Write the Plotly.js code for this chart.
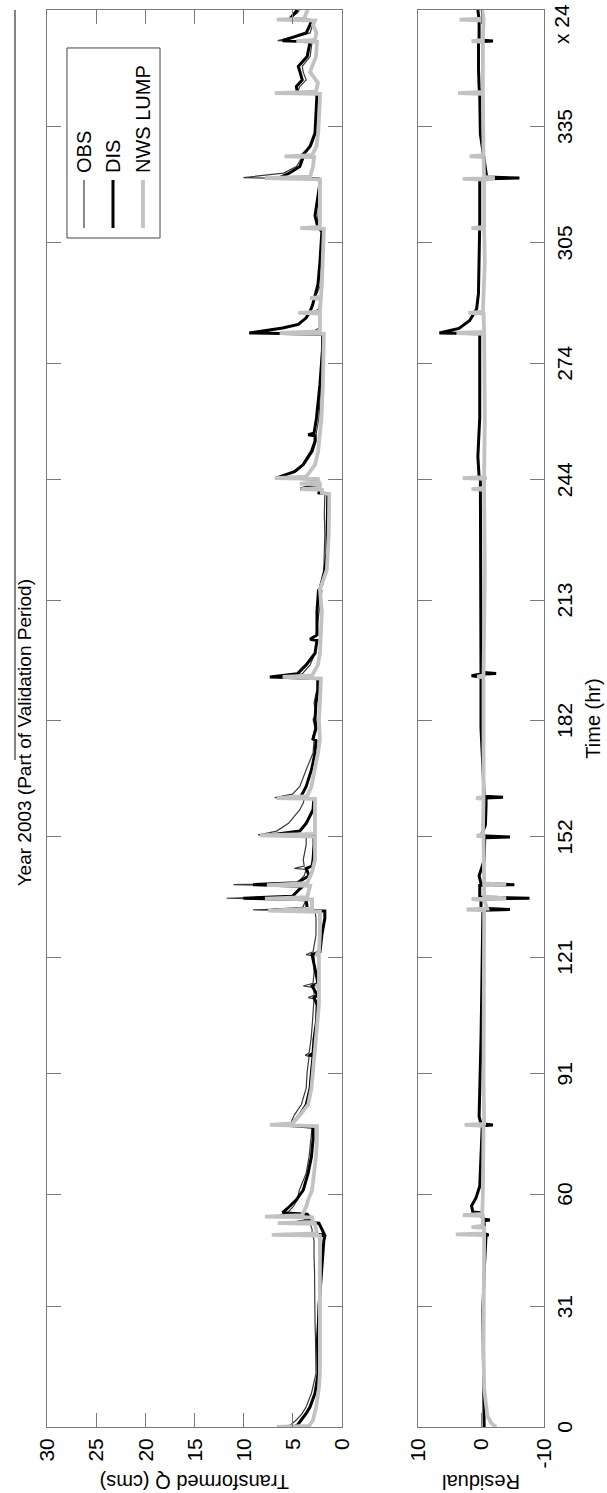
<!DOCTYPE html>
<html>
<head>
<meta charset="utf-8">
<script src="https://cdn.plot.ly/plotly-3.0.1.min.js"></script>
<style>
html,body{margin:0;padding:0;background:#fff;overflow:hidden;width:607px;height:1493px;}
#wrap{position:absolute;left:0;top:0;width:1493px;height:607px;transform-origin:0 0;transform:translate(0px,1493px) rotate(-90deg);}
</style>
</head>
<body>
<div id="wrap"><div id="chart" style="width:1493px;height:607px;"></div></div>
<script>
// ---- tick labels ----
const timeTicks = [0,31,60,91,121,152,182,213,244,274,305,335];
const timeTickText = ['0','31','60','91','121','152','182','213','244','274','305','335'];
const qTicks = [0,5,10,15,20,25,30];
const resTicks = [-10,0,10];
const resTickText = ['-10','0','10'];
const seriesNames = ['OBS','DIS','NWS LUMP'];

// ---- OBS (thin) ----
const obsDay = [0,0.5,1.8,3.5,5.2,8.7,13.8,18,22.4,27,31,36,40,44,48,49.2,49.5,49.9,51,52.3,52.6,53,54.3,54.6,55.2,56.8,58.5,61,65.4,69.7,74,77.2,77.7,78.1,80.4,83,87.3,91.5,95.4,95.8,96.3,100,104.4,108.7,110.3,110.6,111.2,113.2,113.6,114.3,117,121.3,121.7,122.4,126.8,131,132.9,133.2,133.6,135.8,136.2,136.7,139.3,139.7,140.2,142,143.6,143.9,144.5,146.1,150,152.2,152.5,153.5,155.5,159,160.7,161.8,162.1,163,165,169.3,173.6,176.8,177.2,180,182.2,184,186.5,190,192.8,193.2,194,196.3,199.3,202.6,202.9,204,210,215.5,215.8,217,220.8,225,230,235,240.3,240.6,241.5,241.7,242.5,244.2,244.5,246.1,247.9,251.3,253.9,255.6,259.9,268.5,277,281.5,281.8,283,286.8,287.1,288,290.6,290.9,294.3,300,308.6,308.9,315,320.4,321.5,321.8,323,324.7,327.1,327.4,329.9,333.3,338,341.9,343.4,343.7,345.3,347,349,350.5,353,356.8,357.1,359.1,361.2,362.3,362.6,364.2,365];
const obsQ = [6.3,5.2,4.6,4.0,3.6,3.06,2.6,2.6,2.65,2.7,2.7,2.75,2.75,2.8,2.8,2.9,5.0,3.0,3.0,3.2,6.0,3.6,4.0,6.3,5.5,4.9,4.5,4.3,3.6,3.3,3.1,3.0,5.5,5.2,4.8,4.1,3.6,3.5,3.3,3.7,3.3,3.1,2.96,2.8,2.8,3.4,2.8,2.8,3.9,2.9,2.8,2.8,3.6,2.9,2.6,2.6,2.7,9.0,4.0,3.6,11.7,5.0,3.8,11.0,4.5,3.8,3.6,4.8,3.8,3.9,3.6,3.6,8.5,6.6,5.4,4.25,3.9,3.8,6.8,5.0,4.25,3.6,2.9,2.8,3.0,2.7,2.9,2.6,2.8,2.5,2.5,6.2,4.0,3.2,2.7,2.5,3.2,2.6,2.3,2.0,2.3,1.9,1.8,1.75,1.7,1.75,1.7,2.2,2.3,3.5,2.5,2.6,6.6,4.6,3.8,2.9,2.6,2.6,2.3,2.1,2.0,2.0,3.3,2.3,2.2,3.0,2.3,2.2,2.7,2.1,2.0,2.0,2.5,2.3,2.3,2.4,10.0,5.9,4.6,4.0,4.3,3.1,2.6,2.5,2.4,2.4,4.5,4.25,3.6,3.9,4.0,3.2,3.0,6.5,3.2,2.9,2.8,5.5,4.5,4.3];

// ---- DIS (black) ----
const disDay = [0,0.5,1.8,3.5,5.2,8.7,13.8,18,22.4,27,31,36,40,44,48,49.2,49.5,49.9,51,52.5,52.8,53.3,54.8,55.2,56.8,58.5,61,65.4,69.7,74,77.2,77.7,78.2,80.4,83,87.3,91.5,95.4,95.8,96.3,100,104.4,108.7,110.6,111.2,113.6,114.3,121.7,122.4,126.8,131,132.9,133.2,133.6,135.8,136.2,136.7,139.3,139.7,140.2,142,143.9,144.5,146.1,150,152.2,152.5,153.5,155.5,159,160.7,161.8,162.1,163,165,169.3,173.6,176.8,177.2,180,182.2,186.5,190,192.8,193.2,194,196.3,199.3,202.6,202.9,204,210,215.5,215.8,220.8,225,230,235,240.3,240.6,241.5,241.7,242.5,244.2,244.5,246.1,247.9,251.3,253.9,255.3,255.6,256,259.9,268.5,277,281.5,281.8,283.1,284,285.7,287.4,289,294.3,300,308,308.9,312,320.4,321.5,321.8,323,324.7,327.1,327.4,329.9,333.3,341.9,343.4,343.7,345.3,347,349,350.5,353,356.8,357.1,359.1,361.2,362.3,362.6,364.2,365];
const disQ = [4.9,4.5,4.1,3.6,3.2,2.7,2.38,2.4,2.45,2.35,2.3,2.15,2.04,1.9,1.8,1.7,2.5,1.8,2.0,2.3,4.5,3.0,3.5,6.0,5.3,4.6,3.9,3.4,3.06,2.9,2.9,5.6,5.0,4.25,3.6,3.2,3.06,2.9,3.2,2.9,2.8,2.55,2.48,2.8,2.45,3.0,2.4,3.0,2.2,2.0,1.7,1.7,7.0,3.5,3.6,10.0,5.0,4.0,9.0,4.5,3.3,3.6,3.0,2.9,2.8,2.8,7.3,4.25,3.6,2.9,2.85,2.8,4.2,4.0,3.6,3.06,2.7,2.6,2.9,2.6,2.7,2.6,2.4,2.4,7.3,4.5,3.6,2.7,2.5,3.2,2.5,2.5,2.35,2.2,1.7,1.5,1.45,1.45,1.4,2.3,2.3,4.2,2.6,2.7,6.6,4.8,3.9,3.06,2.7,2.7,3.4,2.8,2.55,2.2,1.95,1.9,9.4,6.0,4.4,3.6,3.2,2.95,2.4,2.2,2.0,2.4,2.7,2.2,2.3,6.3,5.3,4.25,3.9,4.0,3.2,2.7,2.55,2.5,4.5,4.6,4.0,4.25,4.4,3.5,3.2,6.0,3.6,3.2,3.1,5.3,4.7,4.5];

// ---- NWS LUMP (light gray) ----
const nwsDay = [0,0.3,1.8,5,10,13.8,22.4,31,40,48,49.3,49.5,49.9,51,52.3,52.5,52.8,54,54.2,54.6,56.8,58.5,61,65.4,69.7,74,77.5,77.8,78.2,80.4,83,87.3,91.5,100,104.4,108.7,113.3,113.6,114,121.4,121.7,122.2,127,132.7,133.0,133.5,135.9,136.1,136.5,139.4,139.6,140.1,143,146.1,152.1,152.4,152.8,155.5,160.7,161.8,162.0,162.5,165,169.3,173.6,177,182,186.5,192.8,193.2,193.6,196.3,199.3,210,215.7,220.8,230,240.3,240.6,241.4,241.6,241.9,242.8,243,243.3,244.2,244.4,244.8,246.1,247.9,251.3,253.9,259.9,268.5,277,281.6,281.8,282.2,286.8,287,287.3,290.6,290.8,291.1,294.3,300,308.6,308.8,309.1,315,321.4,321.7,322.1,324.7,327.1,327.3,327.6,329.9,333.3,341.9,343.4,343.6,344,346.2,349,350.5,353,356.8,357,357.3,359.1,361.2,362.3,362.5,362.8,364.2,365];
const nwsQ = [6.6,3.3,2.9,2.6,2.3,2.2,2.2,2.2,2.15,2.15,2.2,7.1,2.5,2.6,2.7,6.5,2.9,3.0,7.8,4.0,3.6,3.4,3.0,2.8,2.6,2.5,2.5,7.3,5.0,4.2,3.4,3.06,2.9,2.6,2.38,2.3,2.3,2.6,2.3,2.3,2.6,2.3,2.2,2.2,7.5,3.0,3.0,7.8,3.5,3.2,7.6,3.5,3.0,2.7,2.7,8.3,2.7,2.7,2.7,2.7,6.6,3.5,3.06,2.7,2.4,2.2,2.3,2.2,2.1,6.0,3.0,2.4,2.2,2.0,2.2,1.5,1.3,1.25,2.0,2.0,4.2,2.2,2.2,4.25,2.3,2.4,6.8,3.6,3.2,2.7,2.38,2.3,2.04,1.9,1.8,1.8,6.3,2.2,2.2,4.4,2.2,2.1,3.2,2.1,2.0,1.9,1.8,4.2,2.2,2.2,2.2,7.8,3.2,2.9,2.8,5.8,3.0,2.55,2.38,2.2,2.2,6.8,2.6,2.4,3.2,3.0,2.6,2.5,4.6,2.7,2.55,2.9,2.7,6.6,3.8,3.6,3.4];

// ---- Residuals (DIS, black) ----
const resDisDay = [0,10,20,30,40,48,49.3,49.5,49.8,51,53.1,53.3,53.6,55.2,55.4,57,59,62,70,77.6,77.8,78.1,80,90,100,110,120,131,133.1,133.3,133.6,136.0,136.2,136.5,139.5,139.7,140.0,142,146,151.8,152,152.3,155,160,162.0,162.2,162.5,170,180,193.2,193.5,193.9,194.1,194.4,200,215,230,244.2,244.4,244.7,250,260,275,281.6,281.8,283,285,288,292,300,310,321.5,321.7,322.0,324,328,333,343,345,350,356.8,357,357.3,362.5,365];
const resDisVal = [-0.5,-0.4,-0.3,-0.3,-0.5,-0.8,-0.8,-1.2,-0.6,-0.5,-0.5,-1.4,-0.3,0.2,1.3,1.5,0.8,0.2,0.0,-0.2,-1.9,0.0,0.3,0.1,0.0,-0.1,-0.2,-0.3,-0.3,-4.6,0.0,0.0,-7.7,0.2,0.2,-5.3,0.0,0.3,-0.5,-0.6,-4.6,0.0,-0.7,-0.8,-0.8,-3.5,-0.5,-0.3,0.0,0.0,1.5,0.2,-2.4,0.0,0.0,0.0,0.1,0.1,-0.8,0.3,0.5,0.2,0.2,0.2,6.6,3.5,1.8,0.7,0.4,0.3,0.2,0.2,-6.1,-0.9,-0.7,-0.3,0.1,0.2,0.3,0.4,0.4,-1.9,0.3,0.3,0.5];

// ---- Residuals (NWS LUMP, gray) ----
const resNwsDay = [0,1,3,10,20,49.4,49.6,49.9,51.3,51.5,51.8,54.4,54.6,54.9,60,77.6,77.8,78.1,90,120,133.1,133.3,133.5,135.8,136.0,136.2,136.5,139.5,139.7,140.0,152.1,152.3,152.6,161.8,162.0,162.3,193.1,193.3,193.6,220,241.4,241.6,241.9,244.2,244.4,244.7,260,281.6,281.8,282.1,286.8,287.0,287.3,300,308.6,308.8,309.1,321.3,321.5,321.7,322.0,327.1,327.3,327.6,343.4,343.6,343.9,356.8,357.0,357.3,362.3,362.5,362.8,365];
const resNwsVal = [-2.4,-1.6,-1.0,-0.5,-0.4,-0.5,4.0,-0.5,-0.5,1.5,-0.3,-0.3,2.9,-0.2,-0.3,-0.4,2.6,-0.5,-0.4,-0.5,-0.5,2.3,-1.0,-0.5,1.5,-4.0,-0.5,-0.5,-4.0,-0.5,-0.4,0.7,-0.3,-0.4,0.8,-0.4,-0.4,0.6,-0.4,-0.6,-0.5,1.5,-0.5,-0.5,2.9,-0.5,-0.6,-0.5,3.9,-0.5,-0.4,2.0,-0.3,-0.6,-0.5,1.5,-0.5,-0.5,2.9,-2.2,-0.5,-0.4,1.8,-0.4,-0.3,3.65,-0.3,-0.3,1.5,-0.3,-0.4,3.4,-0.4,-0.2];

const OBS_C = '#3a3a3a', DIS_C = '#000000', NWS_C = '#c2c2c2';
const OBS_W = 1.2, DIS_W = 3, NWS_W = 3.8;
const FONT = 'Liberation Sans, Arial, Helvetica, sans-serif';

const traces = [
  {x: obsDay, y: obsQ, name: seriesNames[0], type: 'scatter', mode: 'lines', line: {color: OBS_C, width: OBS_W}, xaxis: 'x', yaxis: 'y'},
  {x: disDay, y: disQ, name: seriesNames[1], type: 'scatter', mode: 'lines', line: {color: DIS_C, width: DIS_W}, xaxis: 'x', yaxis: 'y'},
  {x: nwsDay, y: nwsQ, name: seriesNames[2], type: 'scatter', mode: 'lines', line: {color: NWS_C, width: NWS_W}, xaxis: 'x', yaxis: 'y'},
  {x: resDisDay, y: resDisVal, name: seriesNames[1] + ' residual', type: 'scatter', mode: 'lines', line: {color: DIS_C, width: DIS_W}, xaxis: 'x2', yaxis: 'y2'},
  {x: resNwsDay, y: resNwsVal, name: seriesNames[2] + ' residual', type: 'scatter', mode: 'lines', line: {color: NWS_C, width: NWS_W}, xaxis: 'x2', yaxis: 'y2'}
];

const axCommon = {showline: true, linecolor: '#7a7a7a', linewidth: 1, mirror: 'ticks', ticks: 'inside', ticklen: 14, tickcolor: '#7a7a7a', tickwidth: 1, showgrid: false, zeroline: false, tickfont: {size: 21, color: '#000'}};

// legend drawn in paper coordinates (box, line samples, labels)
const legBox = {x0: 0.8391, x1: 0.9732, y0: 0.7726, y1: 0.9598};
const legRows = [0.9256, 0.8672, 0.8068];
const legSample = [0.8462, 0.8800];
const legColors = [OBS_C, DIS_C, NWS_C];
const legWidths = [OBS_W, DIS_W, NWS_W];

const shapes = [
  {type: 'line', xref: 'paper', yref: 'paper', x0: 0.4707, x1: 1.0, y0: 1.0644, y1: 1.0644, line: {color: '#333', width: 1.2}},
  {type: 'rect', xref: 'paper', yref: 'paper', x0: legBox.x0, x1: legBox.x1, y0: legBox.y0, y1: legBox.y1, fillcolor: '#fff', line: {color: '#444', width: 1}}
];
const annotations = [
  {text: 'x 24', xref: 'paper', yref: 'paper', x: 0.99, y: -0.036, xanchor: 'center', yanchor: 'middle', showarrow: false, font: {size: 21, color: '#000'}}
];
seriesNames.forEach((n, i) => {
  shapes.push({type: 'line', xref: 'paper', yref: 'paper', x0: legSample[0], x1: legSample[1], y0: legRows[i], y1: legRows[i], line: {color: legColors[i], width: legWidths[i]}});
  annotations.push({text: n, xref: 'paper', yref: 'paper', x: 0.8836, y: legRows[i], xanchor: 'left', yanchor: 'middle', showarrow: false, font: {size: 20, color: '#000'}});
});

const layout = {
  width: 1493, height: 607,
  margin: {l: 66, r: 10, t: 47, b: 63},
  paper_bgcolor: '#fff', plot_bgcolor: '#fff',
  font: {family: FONT, color: '#000'},
  showlegend: false,
  title: {text: 'Year 2003 (Part of Validation Period)', font: {size: 19, color: '#000'}, x: 0.49, xref: 'paper', xanchor: 'center', y: 0.9605, yref: 'container', yanchor: 'middle'},
  xaxis: Object.assign({}, axCommon, {domain: [0, 1], range: [0, 365], tickvals: timeTicks, ticktext: timeTickText, showticklabels: false, anchor: 'y'}),
  yaxis: Object.assign({}, axCommon, {domain: [0.4074, 1], range: [0, 30], tickvals: qTicks, anchor: 'x', ticklabelstandoff: 6,
    title: {text: 'Transformed Q (cms)', font: {size: 20}, standoff: 8}}),
  xaxis2: Object.assign({}, axCommon, {domain: [0, 1], range: [0, 365], tickvals: timeTicks, ticktext: timeTickText, anchor: 'y2', ticklabelstandoff: 2,
    title: {text: 'Time (hr)', font: {size: 20}, standoff: 10}}),
  yaxis2: Object.assign({}, axCommon, {domain: [0, 0.2535], range: [-10, 10], tickvals: resTicks, ticktext: resTickText, anchor: 'x2', ticklabelstandoff: 6,
    title: {text: 'Residual', font: {size: 20}, standoff: 8}}),
  annotations: annotations,
  shapes: shapes
};

Plotly.newPlot('chart', traces, layout, {staticPlot: true, displayModeBar: false});
</script>
</body>
</html>
